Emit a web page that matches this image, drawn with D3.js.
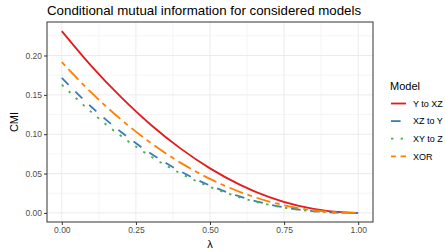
<!DOCTYPE html>
<html>
<head>
<meta charset="utf-8">
<script src="https://cdn.jsdelivr.net/npm/d3@7"></script>
<style>
  body { margin: 0; background: #fff; }
  text { font-family: "Liberation Sans", Arial, sans-serif; }
</style>
</head>
<body>
<div id="chart"></div>
<script>
// values
const lambda = [0, 0.1, 0.2, 0.3, 0.4, 0.5, 0.6, 0.7, 0.8, 0.9, 1.0];
const yToXZ = [0.231, 0.1865, 0.147, 0.112, 0.082, 0.0566, 0.036, 0.020, 0.0088, 0.0022, 0];
const xzToY = [0.1715, 0.1346, 0.1027, 0.0755, 0.0529, 0.0348, 0.0209, 0.0107, 0.0042, 0.0009, 0];
const xyToZ = [0.163, 0.128, 0.0976, 0.0718, 0.0503, 0.0331, 0.0198, 0.0102, 0.0040, 0.0008, 0];
const xor = [0.1916, 0.1527, 0.1186, 0.089, 0.0639, 0.0432, 0.0268, 0.0144, 0.0060, 0.0014, 0];
const seriesNames = ['Y to XZ', 'XZ to Y', 'XY to Z', 'XOR'];
const xTicks = [0, 0.25, 0.5, 0.75, 1];
const yTicks = [0, 0.05, 0.1, 0.15, 0.2];

const colours = ['#E41A1C', '#377EB8', '#4DAF4A', '#FF7F00'];
const dashes = [null, '9.6 9.6', '2.4 7.2', '4.8 4.8 14.4 4.8'];
const allSeries = [yToXZ, xzToY, xyToZ, xor];

const width = 445, height = 252;
const margin = {top: 22, right: 72, bottom: 30, left: 47};
const pw = width - margin.left - margin.right;
const ph = height - margin.top - margin.bottom;

const x = d3.scaleLinear().domain([-0.05, 1.05]).range([0, pw]);
const ymax = d3.max(yToXZ);
const y = d3.scaleLinear().domain([-0.05 * ymax, 1.05 * ymax]).range([ph, 0]);

const svg = d3.select('#chart').append('svg')
  .attr('width', width)
  .attr('height', height);

svg.append('text')
  .attr('x', margin.left)
  .attr('y', 14.5)
  .attr('font-size', 13.3)
  .attr('fill', '#000')
  .text('Conditional mutual information for considered models');

const g = svg.append('g')
  .attr('transform', `translate(${margin.left}, ${margin.top})`);

// grid
const xMinor = [0.125, 0.375, 0.625, 0.875];
const yMinor = [0.025, 0.075, 0.125, 0.175, 0.225];
g.selectAll('.xminor').data(xMinor).enter().append('line')
  .attr('x1', (d) => x(d)).attr('x2', (d) => x(d))
  .attr('y1', 0).attr('y2', ph)
  .attr('stroke', '#EBEBEB').attr('stroke-width', 0.5);
g.selectAll('.yminor').data(yMinor).enter().append('line')
  .attr('x1', 0).attr('x2', pw)
  .attr('y1', (d) => y(d)).attr('y2', (d) => y(d))
  .attr('stroke', '#EBEBEB').attr('stroke-width', 0.5);
g.selectAll('.xmajor').data(xTicks).enter().append('line')
  .attr('x1', (d) => x(d)).attr('x2', (d) => x(d))
  .attr('y1', 0).attr('y2', ph)
  .attr('stroke', '#EBEBEB').attr('stroke-width', 1);
g.selectAll('.ymajor').data(yTicks).enter().append('line')
  .attr('x1', 0).attr('x2', pw)
  .attr('y1', (d) => y(d)).attr('y2', (d) => y(d))
  .attr('stroke', '#EBEBEB').attr('stroke-width', 1);

// lines
allSeries.forEach((vals, i) => {
  const line = d3.line()
    .x((d, j) => x(lambda[j]))
    .y((d) => y(d))
    .curve(d3.curveMonotoneX);
  g.append('path')
    .datum(vals)
    .attr('fill', 'none')
    .attr('stroke', colours[i])
    .attr('stroke-width', 1.8)
    .attr('stroke-dasharray', dashes[i])
    .attr('d', line);
});

// border
g.append('rect')
  .attr('width', pw).attr('height', ph)
  .attr('fill', 'none').attr('stroke', '#333333').attr('stroke-width', 1);

// axes
const xAxis = g.append('g')
  .attr('transform', `translate(0, ${ph})`)
  .call(d3.axisBottom(x).tickValues(xTicks).tickFormat(d3.format('.2f')).tickSize(3).tickPadding(2));
const yAxis = g.append('g')
  .call(d3.axisLeft(y).tickValues(yTicks).tickFormat(d3.format('.2f')).tickSize(3).tickPadding(2));
[xAxis, yAxis].forEach((a) => {
  a.select('.domain').remove();
  a.selectAll('line').attr('stroke', '#333333');
  a.selectAll('text').attr('fill', '#4D4D4D').attr('font-size', 8.5)
    .attr('font-family', '"Liberation Sans", Arial, sans-serif');
});

svg.append('text')
  .attr('x', margin.left + pw / 2)
  .attr('y', 248)
  .attr('text-anchor', 'middle')
  .attr('font-size', 11)
  .text('λ');

svg.append('text')
  .attr('transform', `translate(18, ${margin.top + ph / 2}) rotate(-90)`)
  .attr('text-anchor', 'middle')
  .attr('font-size', 11)
  .text('CMI');

// legend
const legend = svg.append('g').attr('transform', 'translate(390, 0)');
legend.append('text')
  .attr('x', 0).attr('y', 90)
  .attr('font-size', 11)
  .text('Model');
seriesNames.forEach((name, i) => {
  const ly = 103.5 + i * 17.6;
  legend.append('line')
    .attr('x1', 1).attr('x2', 16)
    .attr('y1', ly).attr('y2', ly)
    .attr('stroke', colours[i])
    .attr('stroke-width', 1.8)
    .attr('stroke-dasharray', dashes[i]);
  legend.append('text')
    .attr('x', 23).attr('y', ly + 3.2)
    .attr('font-size', 9)
    .text(name);
});
</script>
</body>
</html>
